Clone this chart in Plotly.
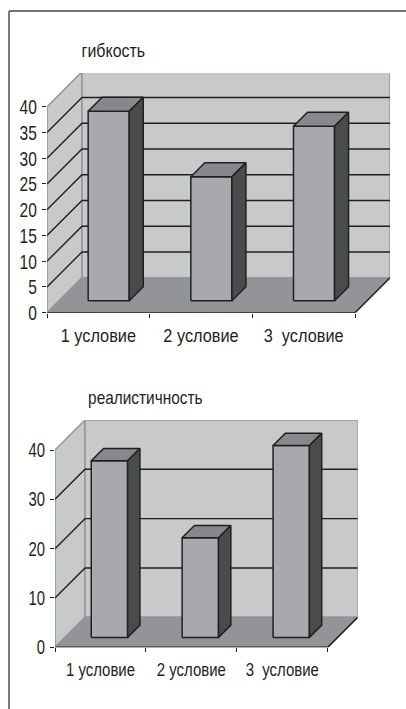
import plotly.graph_objects as go

W, H = 406, 709

categories_top = ["1 условие", "2 условие", "3\u00a0 условие"]
values_top = [36.8, 24.1, 33.9]
ticks_top = [0, 5, 10, 15, 20, 25, 30, 35, 40]
grid_top = [5, 10, 15, 20, 25, 30, 35]
title_top = "гибкость"

categories_bottom = ["1 условие", "2 условие", "3\u00a0 условие"]
values_bottom = [35.8, 20.2, 38.9]
ticks_bottom = [0, 10, 20, 30, 40]
grid_bottom = [10, 20, 30]
title_bottom = "реалистичность"

WALL, FLOOR, FRONT, TOP, SIDE = "#c8c9cb", "#939497", "#a8a9ad", "#87888b", "#4a4b4d"
INK, EDGE = "#231f20", "#939598"
FONT = "Liberation Sans, Arial"

fig = go.Figure()


def panel(idx, cats, vals, ticks, grid, title, box, tfs, lfs, ttfs, barw, shift, d0, d1, standoff, title_xy):
    x0, x1, ytop, y0, y40, dpx = box      # pixel frame of the 3D plot
    xn = "x" if idx == 1 else f"x{idx}"
    yn = "y" if idx == 1 else f"y{idx}"
    band = (x1 - x0 - dpx) / 3
    unit = (y0 - y40) / 40
    dxu, dyu = dpx / band, dpx / unit
    ymax = (y0 - ytop) / unit
    n = len(cats)

    def P(c, v, d):
        return c + d * dxu, v + d * dyu

    def poly(pts, fill=None, line=None, lw=1.5):
        xs, ys = zip(*pts)
        fig.add_trace(go.Scatter(
            x=list(xs), y=list(ys), xaxis=xn, yaxis=yn, mode="lines",
            fill="toself" if fill else None, fillcolor=fill,
            line=dict(color=line or "rgba(0,0,0,0)", width=lw),
            showlegend=False, hoverinfo="skip", cliponaxis=False))

    vmax = ticks[-1]
    # walls
    poly([P(0, 0, 0), P(0, vmax, 0), P(0, vmax, 1), P(0, 0, 1), P(0, 0, 0)], WALL, EDGE, 1.5)
    poly([P(0, 0, 1), P(0, vmax, 1), P(n, vmax, 1), P(n, 0, 1), P(0, 0, 1)], WALL, EDGE, 1.5)
    # grid
    for g in grid:
        poly([P(0, g, 0), P(0, g, 1), P(n, g, 1)], None, INK, 1.4)
    # floor
    poly([P(0, 0, 0), P(n, 0, 0), P(n, 0, 1), P(0, 0, 1), P(0, 0, 0)], FLOOR, EDGE, 1.5)
    poly([P(0, 0, 0), P(n, 0, 0), P(n, 0, 1)], None, INK, 1.5)
    # bars
    for i, v in enumerate(vals):
        a, b = i + 0.5 + shift - barw / 2, i + 0.5 + shift + barw / 2
        poly([P(a, 0, d0), P(b, 0, d0), P(b, v, d0), P(a, v, d0), P(a, 0, d0)], FRONT, INK)
        poly([P(a, v, d0), P(b, v, d0), P(b, v, d1), P(a, v, d1), P(a, v, d0)], TOP, INK)
        poly([P(b, 0, d0), P(b, 0, d1), P(b, v, d1), P(b, v, d0), P(b, 0, d0)], SIDE, INK)

    fig.update_layout({
        ("xaxis" if idx == 1 else f"xaxis{idx}"): dict(
            domain=[x0 / W, x1 / W], range=[0, n + dxu], showgrid=False, zeroline=False,
            showline=False, tickmode="array", tickvals=[i + 0.5 for i in range(n)], ticktext=cats,
            ticks="", ticklabelstandoff=standoff, tickfont=dict(family=FONT, size=lfs, color=INK),
            minor=dict(tickmode="array", tickvals=list(range(n + 1)), ticks="outside",
                       ticklen=4, tickwidth=1.3, tickcolor=INK, showgrid=False),
            anchor=yn, fixedrange=True, automargin=False),
        ("yaxis" if idx == 1 else f"yaxis{idx}"): dict(
            domain=[1 - y0 / H, 1 - ytop / H], range=[0, ymax], showgrid=False, zeroline=False,
            showline=False, tickmode="array", tickvals=ticks, ticktext=[str(t) for t in ticks],
            ticks="outside", ticklen=4, tickwidth=1.3, tickcolor=INK, ticklabelstandoff=1,
            tickfont=dict(family=FONT, size=tfs, color=INK), anchor=xn, fixedrange=True, automargin=False),
    })
    fig.add_annotation(text=title, xref="paper", yref="paper", x=title_xy[0] / W, y=1 - title_xy[1] / H,
                       showarrow=False, xanchor="center", yanchor="middle",
                       font=dict(family=FONT, size=ttfs, color=INK))


panel(1, categories_top, values_top, ticks_top, grid_top, title_top,
      (47, 390, 73, 312.7, 106.7, 35), 21, 19.2, 18.8, 0.40, -0.015, 0.34, 0.74, 9, (113, 50))
panel(2, categories_bottom, values_bottom, ticks_bottom, grid_bottom, title_bottom,
      (55, 357.7, 420, 647.3, 450, 30), 20, 17.6, 18.1, 0.40, -0.01, 0.33, 0.74, 10, (145, 398))

fig.update_layout(width=W, height=H, margin=dict(l=0, r=0, t=0, b=0, autoexpand=False), autosize=False,
                  paper_bgcolor="white", plot_bgcolor="white", showlegend=False)
fig.add_shape(type="line", xref="paper", yref="paper", x0=9 / W, x1=9 / W, y0=0, y1=1 - 11 / H,
              line=dict(color="#444444", width=1.4))
fig.add_shape(type="line", xref="paper", yref="paper", x0=9 / W, x1=1, y0=1 - 11 / H, y1=1 - 11 / H,
              line=dict(color="#444444", width=1.4))

condense = """
document.body.style.margin='0';
document.querySelectorAll('.main-svg text').forEach(function(t){
  var w=t.getComputedTextLength();
  var isY=t.closest('.ytick, .y2tick')!==null;
  if(w>0){t.setAttribute('textLength',w*(isY?0.74:0.85));t.setAttribute('lengthAdjust','spacingAndGlyphs');}
});
"""
fig.write_html("out.html", config={"displayModeBar": False}, post_script=condense)
